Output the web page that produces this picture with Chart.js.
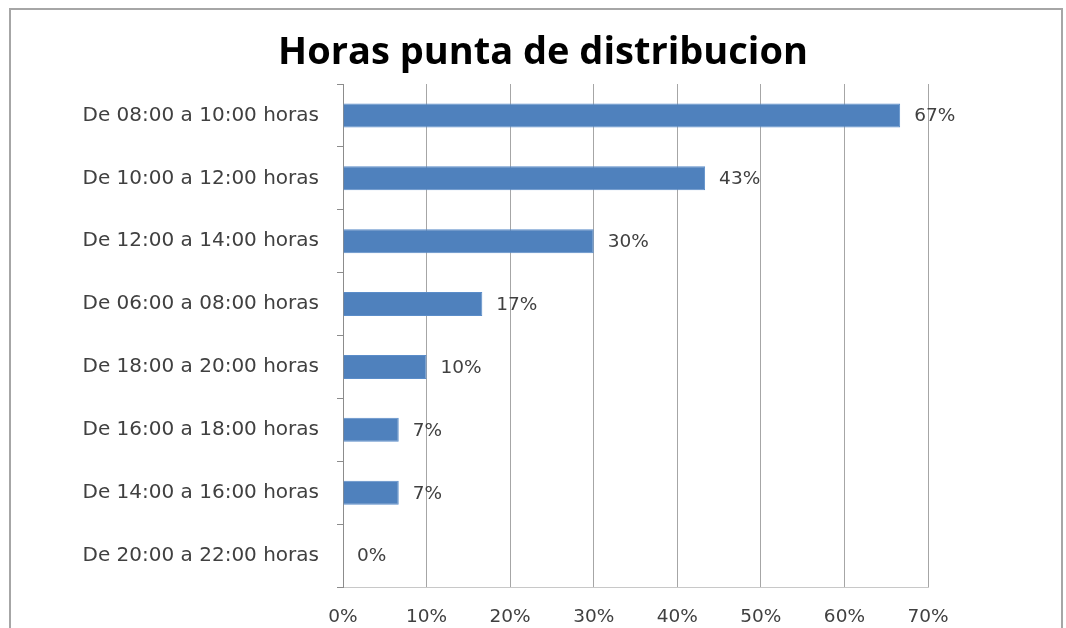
<!DOCTYPE html>
<html>
<head>
<meta charset="utf-8">
<script src="https://cdn.jsdelivr.net/npm/chart.js@4/dist/chart.umd.min.js"></script>
<style>
  html, body { margin: 0; padding: 0; background: #fff; }
  #wrap { width: 1066px; height: 628px; }
</style>
</head>
<body>
<div id="wrap"><canvas id="chart" width="1066" height="628"></canvas></div>
<script>
// Horas punta de distribucion -- horizontal bars, percent of answers
const chartTitle = 'Horas punta de distribucion';
const categories = [
  'De 08:00 a 10:00 horas',
  'De 10:00 a 12:00 horas',
  'De 12:00 a 14:00 horas',
  'De 06:00 a 08:00 horas',
  'De 18:00 a 20:00 horas',
  'De 16:00 a 18:00 horas',
  'De 14:00 a 16:00 horas',
  'De 20:00 a 22:00 horas'
];
const shares = [66.67, 43.33, 30, 16.67, 10, 6.67, 6.67, 0];
const xTicks = [0, 10, 20, 30, 40, 50, 60, 70];

const FONT = '"DejaVu Sans", sans-serif';
const TEXT = '#404040';

// outer frame + title (title centred on the whole frame, not the plot)
const framePlugin = {
  id: 'frame',
  beforeDraw(chart) {
    const ctx = chart.ctx;
    ctx.save();
    ctx.strokeStyle = '#a6a6a6';
    ctx.lineWidth = 2;
    ctx.strokeRect(10, 9, 1052, 640);
    ctx.font = 'bold 38px "Open Sans", sans-serif';
    ctx.fillStyle = '#000';
    ctx.textAlign = 'center';
    ctx.textBaseline = 'alphabetic';
    ctx.fillText(chartTitle, 543, 64);
    ctx.restore();
  }
};

// value labels right of each bar
const valueLabels = {
  id: 'valueLabels',
  afterDatasetsDraw(chart) {
    const ctx = chart.ctx;
    const meta = chart.getDatasetMeta(0);
    ctx.save();
    ctx.font = '18.5px ' + FONT;
    ctx.fillStyle = TEXT;
    ctx.textAlign = 'left';
    ctx.textBaseline = 'middle';
    meta.data.forEach((bar, i) => {
      ctx.fillText(Math.round(shares[i]) + '%', bar.x + 14, bar.y + 1);
    });
    ctx.restore();
  }
};

new Chart(document.getElementById('chart'), {
  type: 'bar',
  data: {
    labels: categories,
    datasets: [{
      data: shares,
      backgroundColor: '#4f81bd',
      borderColor: '#5b8dc9',
      borderWidth: 1,
      barPercentage: 0.38,
      categoryPercentage: 1
    }]
  },
  options: {
    indexAxis: 'y',
    responsive: false,
    animation: false,
    layout: { padding: { left: 10, right: 138, top: 84, bottom: 0 } },
    plugins: {
      legend: { display: false },
      tooltip: { enabled: false },
      title: { display: false }
    },
    scales: {
      x: {
        min: 0,
        max: 70,
        afterBuildTicks(scale) { scale.ticks = xTicks.map(v => ({ value: v })); },
        afterFit(scale) { scale.height = 41; },
        grid: { color: '#a6a6a6', drawTicks: false },
        border: { color: '#c8c8c8' },
        ticks: {
          padding: 19,
          color: TEXT,
          font: { family: FONT, size: 18.5 },
          callback: v => v + '%'
        }
      },
      y: {
        afterFit(scale) { scale.width = 333; },
        grid: { drawOnChartArea: false, drawTicks: true, tickLength: 6, color: '#8c8c8c', offset: true },
        border: { color: '#8c8c8c' },
        ticks: {
          padding: 18,
          color: TEXT,
          font: { family: FONT, size: 20 }
        }
      }
    }
  },
  plugins: [framePlugin, valueLabels]
});
</script>
</body>
</html>
